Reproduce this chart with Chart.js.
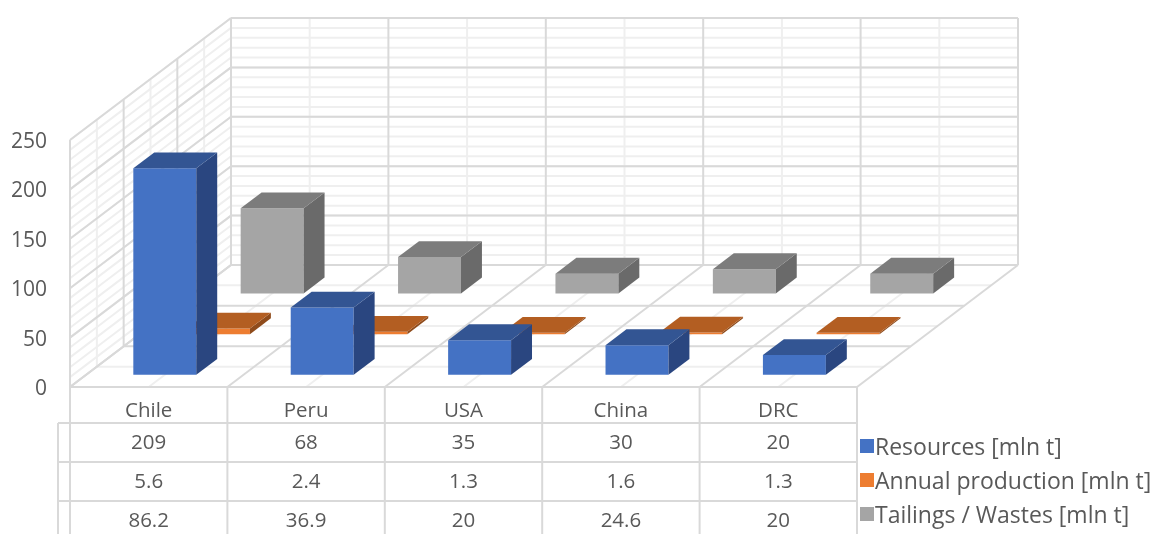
<!DOCTYPE html>
<html>
<head>
<meta charset="utf-8">
<style>
html, body { margin: 0; padding: 0; background: #fff; overflow: hidden; }
canvas { display: block; }
</style>
<script src="https://cdn.jsdelivr.net/npm/chart.js@4/dist/chart.umd.min.js"></script>
</head>
<body>
<canvas id="mycanvas" width="1158" height="534"></canvas>
<script>
// data
var categories = ["Chile", "Peru", "USA", "China", "DRC"];
var resources = [209, 68, 35, 30, 20];
var production = [5.6, 2.4, 1.3, 1.6, 1.3];
var tailings = [86.2, 36.9, 20, 24.6, 20];
var seriesNames = ["Resources [mln t]", "Annual production [mln t]", "Tailings / Wastes [mln t]"];
var seriesColors = ["#4472C4", "#ED7D31", "#A5A5A5"];
var topColors = ["#335593", "#B35E22", "#7C7C7C"];
var sideColors = ["#2A4680", "#8F4B1B", "#6A6A6A"];

// look
var fontName = "'Open Sans'";
var textColor = "#595959";
var gridMajor = "#D9D9D9";
var gridMinor = "#EFEFEF";
var depthX = 161, depthY = 122;   // floor skew, front to back
var barDepth = 0.13, rowGap = 0.1;

function line(ctx, x1, y1, x2, y2, color) {
	ctx.strokeStyle = color;
	ctx.lineWidth = 2;
	ctx.beginPath();
	ctx.moveTo(x1, y1);
	ctx.lineTo(x2, y2);
	ctx.stroke();
}

function poly(ctx, pts, color) {
	ctx.fillStyle = color;
	ctx.beginPath();
	ctx.moveTo(pts[0][0], pts[0][1]);
	for (var i = 1; i < pts.length; i++) ctx.lineTo(pts[i][0], pts[i][1]);
	ctx.closePath();
	ctx.fill();
}

// walls and floor, minor lines first so the major ones sit on top
function drawGrid(chart, ctx, color, yStep, half) {
	var xs = chart.scales.x, ys = chart.scales.y;
	var y0 = ys.getPixelForValue(0), yTop = ys.getPixelForValue(250);
	var xl = xs.getPixelForValue(-0.5), xr = xs.getPixelForValue(categories.length - 0.5);
	// horizontal lines on the left and back walls
	for (var v = 0; v <= 250; v += yStep) {
		var y = ys.getPixelForValue(v);
		line(ctx, xl, y, xl + depthX, y - depthY, color);
		line(ctx, xl + depthX, y - depthY, xr + depthX, y - depthY, color);
	}
	// depth lines on the floor, verticals on the back wall
	for (var i = 0; i < categories.length * 2 + 1; i++) {
		if ((i % 2 == 1) != half) continue;
		var x = xs.getPixelForValue(i / 2 - 0.5);
		line(ctx, x, y0, x + depthX, y0 - depthY, color);
		line(ctx, x + depthX, y0 - depthY, x + depthX, yTop - depthY, color);
	}
	// cross lines on the floor, verticals on the left wall
	for (var j = 0; j < 7; j++) {
		if ((j % 2 == 1) != half) continue;
		var d = j / 6;
		line(ctx, xl + d * depthX, y0 - d * depthY, xr + d * depthX, y0 - d * depthY, color);
		line(ctx, xl + d * depthX, y0 - d * depthY, xl + d * depthX, yTop - d * depthY, color);
	}
}

var box3d = {
	id: "box3d",
	beforeDatasetsDraw: function(chart) {
		var ctx = chart.ctx;
		ctx.save();
		drawGrid(chart, ctx, gridMinor, 10, true);
		drawGrid(chart, ctx, gridMajor, 50, false);
		// back row first
		for (var k = 2; k >= 0; k--) {
			var d = k / 3 + rowGap;
			var dx = d * depthX, dy = d * depthY;
			var bx = barDepth * depthX, by = barDepth * depthY;
			chart.getDatasetMeta(k).data.forEach(function(el) {
				var l = el.x - el.width / 2 + dx, r = el.x + el.width / 2 + dx;
				var t = el.y - dy, b = el.base - dy;
				poly(ctx, [[l, t], [r, t], [r, b], [l, b]], seriesColors[k]);
				poly(ctx, [[r, t], [r + bx, t - by], [r + bx, b - by], [r, b]], sideColors[k]);
				poly(ctx, [[l, t], [l + bx, t - by], [r + bx, t - by], [r, t]], topColors[k]);
			});
		}
		ctx.restore();
		return false;
	},
	afterDraw: function(chart) {
		var ctx = chart.ctx, xs = chart.scales.x, ys = chart.scales.y;
		var rows = [resources, production, tailings];
		var rowY = [423, 462, 501];
		var y0 = ys.getPixelForValue(0);
		var xl = xs.getPixelForValue(-0.5), xr = xs.getPixelForValue(categories.length - 0.5);
		ctx.save();
		// data table
		line(ctx, xl, y0, xr, y0, gridMajor);
		for (var i = 0; i <= categories.length; i++) {
			var x = xs.getPixelForValue(i - 0.5);
			line(ctx, x, y0, x, 534, gridMajor);
		}
		line(ctx, 58, rowY[0], 58, 534, gridMajor);
		rowY.forEach(function(y) { line(ctx, 58, y, xr, y, gridMajor); });
		ctx.font = "20.5px " + fontName;
		ctx.fillStyle = textColor;
		ctx.textAlign = "center";
		ctx.textBaseline = "middle";
		rows.forEach(function(row, r) {
			row.forEach(function(v, c) {
				ctx.fillText(String(v), xs.getPixelForValue(c), rowY[r] + 20);
			});
		});
		// legend
		ctx.font = "23px " + fontName;
		ctx.textAlign = "left";
		var legendY = [446, 480, 514];
		seriesNames.forEach(function(name, s) {
			ctx.fillStyle = seriesColors[s];
			ctx.fillRect(860, legendY[s] - 7, 14, 14);
			ctx.fillStyle = textColor;
			ctx.fillText(name, 875, legendY[s] + 2);
		});
		ctx.restore();
	}
};

var chartdata = {
	labels: categories,
	datasets: [
		{ label: seriesNames[0], data: resources, backgroundColor: seriesColors[0] },
		{ label: seriesNames[1], data: production, backgroundColor: seriesColors[1] },
		{ label: seriesNames[2], data: tailings, backgroundColor: seriesColors[2] }
	]
};

var linegraph = new Chart(document.getElementById("mycanvas"), {
	type: "bar",
	data: chartdata,
	plugins: [box3d],
	options: {
		responsive: false,
		animation: false,
		devicePixelRatio: 1,
		layout: { padding: { top: 140, right: 301, bottom: 111, left: 0 } },
		plugins: { legend: { display: false }, tooltip: { enabled: false } },
		datasets: { bar: { grouped: false, categoryPercentage: 1, barPercentage: 0.4 } },
		scales: {
			x: {
				afterFit: function(s) { s.height = 36; },
				grid: { display: false },
				border: { display: false },
				ticks: { color: textColor, font: { family: "Open Sans", size: 20.5 }, padding: 4, maxRotation: 0 }
			},
			y: {
				min: 0, max: 250,
				afterFit: function(s) { s.width = 70; },
				grid: { display: false, drawTicks: false },
				border: { display: false },
				ticks: { stepSize: 50, color: textColor, font: { family: "Open Sans", size: 21 }, padding: 23, labelOffset: 2 }
			}
		}
	}
});
</script>
</body>
</html>
